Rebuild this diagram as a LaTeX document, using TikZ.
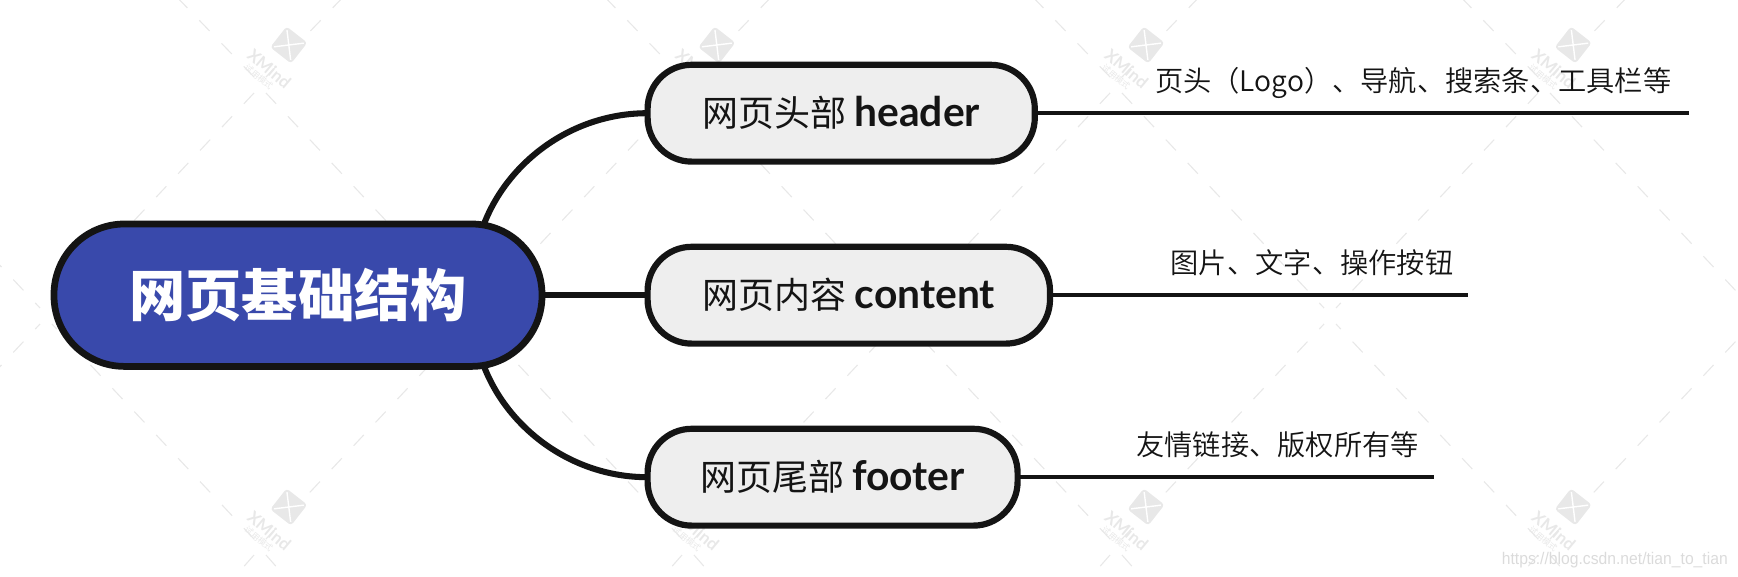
\documentclass[tikz,border=0pt]{standalone}
\usepackage{fontspec}
\setmainfont{Noto Sans CJK SC}
\newfontfamily\leaffont{Noto Sans CJK SC}[UprightFont=* DemiLight]
\newfontfamily\latinfont{Lato}
\newfontfamily\urlfont{Liberation Sans}
\newcommand{\branchword}[1]{{\fontsize{29pt}{29pt}\selectfont\latinfont\bfseries #1}}
\definecolor{myblue}{RGB}{57,73,171}
\definecolor{myblack}{RGB}{20,20,20}
\definecolor{mygray}{RGB}{238,238,238}
\definecolor{mymark}{RGB}{232,232,232}
\tikzset{
    rootbox/.style={draw=myblack, fill=myblue, line width=4.8pt, rounded corners=1.76cm, outer sep=0pt,
        minimum width=12.2cm, minimum height=3.56cm, text=white, font=\fontsize{40pt}{40pt}\selectfont\bfseries},
    branchbox/.style={draw=myblack, fill=mygray, line width=4.4pt, rounded corners=1.1cm, outer sep=0pt,
        minimum height=2.42cm, anchor=west, text=myblack, font=\fontsize{25.6pt}{25.6pt}\selectfont},
    leaflabel/.style={text=myblack, inner sep=0pt, font=\fontsize{20.1pt}{20.1pt}\selectfont\leaffont},
    branchline/.style={draw=myblack, line width=4.3pt},
    leafline/.style={draw=myblack, line width=3.1pt},
    markline/.style={draw=mymark, line width=0.8pt, dash pattern=on 0.37cm off 0.43cm},
    markbox/.style={fill=mymark, rounded corners=0.08cm, minimum size=0.66cm, inner sep=0pt, rotate=52},
    marktext/.style={text=mymark, inner sep=0pt, rotate=-40},
}
\begin{document}
\begin{tikzpicture}
    \useasboundingbox (0, 0) rectangle (43.45, 14.4);
    % Watermark
    \begin{scope}
        \clip (0, 0) rectangle (43.45, 14.4);
        \foreach \k/\xm in {-1/-4.2, 0/6.5, 1/17.2, 2/27.9, 3/38.6, 4/49.3} {
            \foreach \s in {-1, 1} {
                \draw[markline] (\xm + \s * 0.15, 12.075) -- (\xm + \s * 5.2, 6.7);
                \draw[markline] (\xm + \s * 0.15, 12.475) -- (\xm + \s * 2.2, 14.6);
                \draw[markline] (\xm + \s * 0.15, 0.925) -- (\xm + \s * 5.2, 6.3);
                \draw[markline] (\xm + \s * 0.15, 0.525) -- (\xm + \s * 0.7, -0.1);
            }
        }
    \end{scope}
    \foreach \k/\xm in {0/7.22, 1/17.92, 2/28.65, 3/39.33} {
        \foreach \r/\ym in {a/13.275, b/1.725} {
            \node[markbox] (logo\k\r) at (\xm, \ym) {};
            \draw[white, line width=1pt, shorten >=0.1cm, shorten <=0.1cm]
                (logo\k\r.north west) -- (logo\k\r.south east);
            \draw[white, line width=1pt, shorten >=0.1cm, shorten <=0.1cm]
                (logo\k\r.north east) -- (logo\k\r.south west);
            \node[marktext, font=\fontsize{12pt}{12pt}\selectfont\latinfont\bfseries] (xmind\k\r)
                at (\xm - 0.485, \ym - 0.6) {XMind};
            \node[marktext, font=\fontsize{6pt}{6pt}\selectfont] (trial\k\r)
                at (\xm - 0.75, \ym - 0.8) {试用模式};
        }
    }
    \node[anchor=east, inner sep=0pt, xscale=0.93, text=black!14, font=\fontsize{12pt}{12pt}\selectfont\urlfont] (csdn)
        at (43.2, 0.4) {https://blog.csdn.net/tian\_to\_tian};

    \coordinate (headerend) at (42.225, 11.57);
    \coordinate (contentend) at (36.7, 7.02);
    \coordinate (footerend) at (35.85, 2.47);

    \node[branchbox, minimum width=9.68cm] (header) at (16.19, 11.57) {网页头部 \branchword{header}};
    \node[branchbox, minimum width=10.06cm] (content) at (16.19, 7.02) {网页内容 \branchword{content}};
    \node[branchbox, minimum width=9.25cm] (footer) at (16.19, 2.47) {网页尾部 \branchword{footer}};
    \node[rootbox] (root) at (7.45, 7.02) {网页基础结构};

    \draw[branchline] ([xshift=-1.45cm]root.north east)
        .. controls +(0.6, 1.55) and +(-1.9, 0) .. (header.west);
    \draw[branchline] (root.east) -- (content.west);
    \draw[branchline] ([xshift=-1.45cm]root.south east)
        .. controls +(0.6, -1.55) and +(-1.9, 0) .. (footer.west);

    \draw[leafline] (header.east) -- (headerend);
    \draw[leafline] (content.east) -- (contentend);
    \draw[leafline] (footer.east) -- (footerend);

    \node[leaflabel] (headerleaf) at (35.33, 12.33) {页头（Logo）、导航、搜索条、工具栏等};
    \node[leaflabel] (contentleaf) at (32.8, 7.825) {图片、文字、操作按钮};
    \node[leaflabel] (footerleaf) at (31.94, 3.275) {友情链接、版权所有等};
\end{tikzpicture}
\end{document}
